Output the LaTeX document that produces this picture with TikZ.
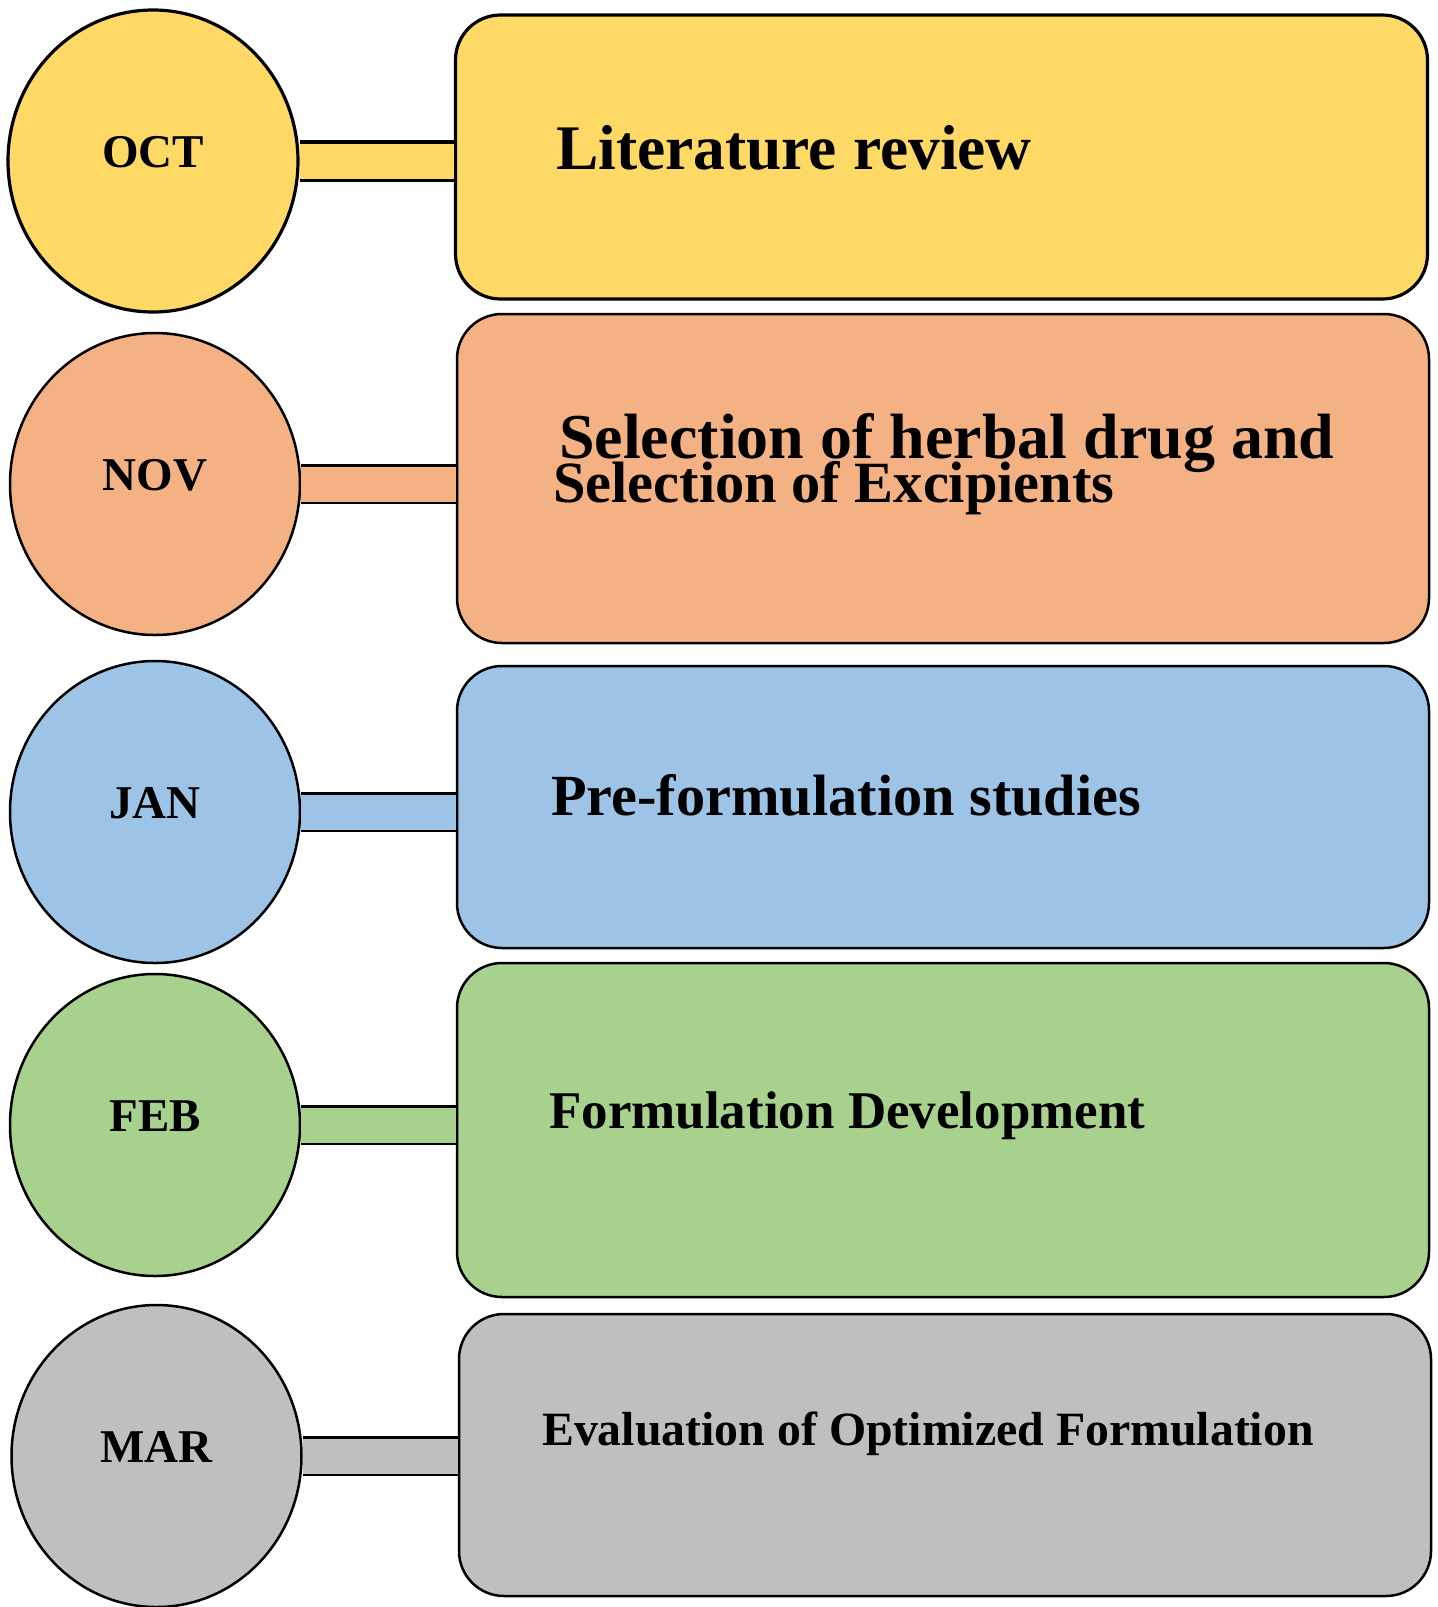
\documentclass[tikz,border=0pt]{standalone}
\usepackage{fontspec}
\setmainfont{Liberation Serif}
\usepackage{tikz}
\usetikzlibrary{shapes.geometric,positioning,calc}

\definecolor{octcol}{HTML}{FFD966}
\definecolor{novcol}{HTML}{F4B183}
\definecolor{jancol}{HTML}{9DC3E6}
\definecolor{febcol}{HTML}{A9D18E}
\definecolor{marcol}{HTML}{BFBFBF}

\tikzset{
  month/.style={draw, ellipse, line width=2.5pt, minimum width=290pt, minimum height=302pt,
    text height=31pt, text depth=19pt, font=\fontsize{47}{47}\selectfont\bfseries},
  task/.style={draw, rectangle, rounded corners=45pt, line width=2.5pt, minimum width=972pt},
  tasktxt/.style={anchor=base west, inner sep=0pt},
  bar/.style={line width=2.5pt, double distance=35pt},
}

\begin{document}
\begin{tikzpicture}[x=1pt, y=-1pt]
    \useasboundingbox (0,0) rectangle (1438,1607);

    % October
    \node[month, fill=octcol, line width=3.2pt] (oct) at (153,161) {OCT};
    \node[task, fill=octcol, line width=3.2pt, minimum height=284pt] (litbox) at (941.5,157) {};
    \node[tasktxt, font=\fontsize{63.5}{63.5}\selectfont\bfseries] (lit) at (556,169) {Literature review};
    \draw[bar, double=octcol, line width=3.2pt] (oct.east) -- (oct.east -| litbox.west);

    % November
    \node[month, fill=novcol] (nov) at (155,484) {NOV};
    \node[task, fill=novcol, minimum height=329pt] (selbox) at (943,478.5) {};
    \node[tasktxt, font=\fontsize{64}{64}\selectfont\bfseries] (sel) at (559,458) {Selection of herbal drug and};
    \node[tasktxt, font=\fontsize{58.4}{58.4}\selectfont\bfseries] (exc) at (553,502) {Selection of Excipients};
    \draw[bar, double=novcol] (nov.east) -- (nov.east -| selbox.west);

    % January
    \node[month, fill=jancol] (jan) at (155,812) {JAN};
    \node[task, fill=jancol, minimum height=282pt] (prebox) at (943,807) {};
    \node[tasktxt, font=\fontsize{58.3}{58.3}\selectfont\bfseries] (pre) at (551,815) {Pre-formulation studies};
    \draw[bar, double=jancol] (jan.east) -- (jan.east -| prebox.west);

    % February
    \node[month, fill=febcol] (feb) at (155,1125) {FEB};
    \node[task, fill=febcol, minimum height=334pt] (devbox) at (943,1130) {};
    \node[tasktxt, font=\fontsize{53}{53}\selectfont\bfseries] (dev) at (549,1128) {Formulation Development};
    \draw[bar, double=febcol] (feb.east) -- (feb.east -| devbox.west);

    % March
    \node[month, fill=marcol] (mar) at (156.5,1456) {MAR};
    \node[task, fill=marcol, minimum height=282pt] (evabox) at (945,1455) {};
    \node[tasktxt, font=\fontsize{47.8}{47.8}\selectfont\bfseries] (eva) at (542,1445) {Evaluation of Optimized Formulation};
    \draw[bar, double=marcol] (mar.east) -- (mar.east -| evabox.west);
\end{tikzpicture}
\end{document}
